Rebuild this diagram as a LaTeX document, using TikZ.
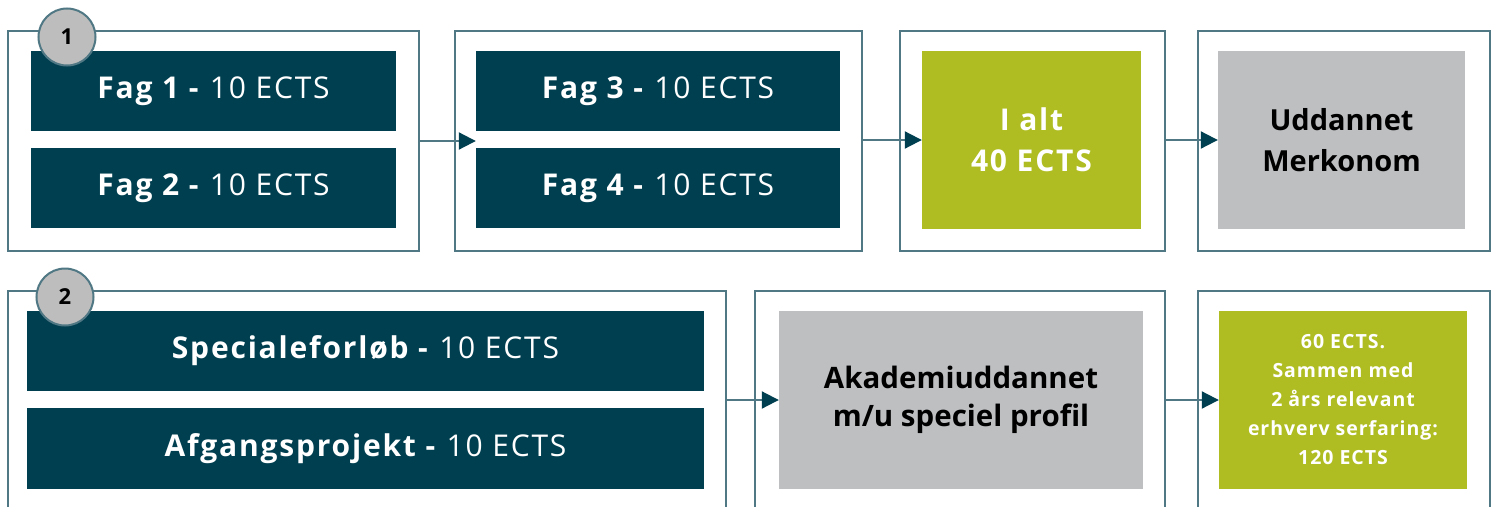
\documentclass[tikz,border=0pt]{standalone}
\usepackage{fontspec}
\setmainfont{Open Sans}
\usetikzlibrary{arrows.meta}
\definecolor{darkC}{RGB}{0,63,80}
\definecolor{frameC}{RGB}{80,120,132}
\definecolor{greenC}{RGB}{175,189,34}
\definecolor{grayC}{RGB}{190,191,193}
\definecolor{circC}{RGB}{189,189,189}
\tikzset{
  frame/.style={draw=frameC, line width=2pt, fill=white, inner sep=0pt},
  darkbox/.style={fill=darkC, text=white, inner sep=0pt, font=\fontsize{30}{34}\selectfont\addfontfeatures{LetterSpace=6}},
  greenbox/.style={fill=greenC, text=white, inner sep=0pt, align=center},
  graybox/.style={fill=grayC, text=black, inner sep=0pt, align=center},
  numc/.style={circle, fill=circC, draw=frameC, line width=2pt, minimum size=57pt, inner sep=0pt, font=\bfseries\fontsize{22}{22}\selectfont},
  conn/.style={draw=frameC, line width=2pt, -{Triangle[length=17pt,width=17pt,color=darkC]}}
}
\begin{document}
\begin{tikzpicture}[x=1pt,y=-1pt]
\useasboundingbox (0,0) rectangle (1493,506);
\clip (0,0) rectangle (1493,506);
% row 1
\node[frame, minimum width=411pt, minimum height=220pt] (b1) at (213.5,141) {};
\node[darkbox, minimum width=365pt, minimum height=80pt] (f1) at (213.5,91) {\textbf{Fag 1 -} 10 ECTS};
\node[darkbox, minimum width=365pt, minimum height=80pt] (f2) at (213.5,188) {\textbf{Fag 2 -} 10 ECTS};
\node[numc] (c1) at (67,37) {1};
\node[frame, minimum width=407pt, minimum height=220pt] (b2) at (658.5,141) {};
\node[darkbox, minimum width=364pt, minimum height=80pt] (f3) at (658,91) {\textbf{Fag 3 -} 10 ECTS};
\node[darkbox, minimum width=364pt, minimum height=80pt] (f4) at (658,188) {\textbf{Fag 4 -} 10 ECTS};
\node[frame, minimum width=265pt, minimum height=220pt] (b3) at (1032.5,141) {};
\node[greenbox, minimum width=219pt, minimum height=178pt, font=\bfseries\fontsize{30}{41}\selectfont\addfontfeatures{LetterSpace=6}] (t1) at (1031.5,140) {I alt\\40 ECTS};
\node[frame, minimum width=292pt, minimum height=220pt] (b4) at (1344,141) {};
\node[graybox, minimum width=247pt, minimum height=178pt, font=\bfseries\fontsize{29}{41}\selectfont] (u1) at (1341.5,140) {Uddannet\\Merkonom};
\draw[conn] (b1.east) -- (b1.east -| f3.west);
\draw[conn] (b2.east |- t1.west) -- (t1.west);
\draw[conn] (b3.east |- u1.west) -- (u1.west);
% row 2
\node[frame, minimum width=718pt, minimum height=239pt] (b21) at (367,410.5) {};
\node[darkbox, minimum width=677pt, minimum height=80pt] (s1) at (365.5,351) {\textbf{Specialeforløb -} 10 ECTS};
\node[darkbox, minimum width=677pt, minimum height=81pt] (s2) at (365.5,448.5) {\textbf{Afgangsprojekt -} 10 ECTS};
\node[numc] (c2) at (65,297) {2};
\node[frame, minimum width=410pt, minimum height=239pt] (b22) at (960,410.5) {};
\node[graybox, minimum width=364pt, minimum height=178pt, font=\bfseries\fontsize{29.5}{38}\selectfont] (a2) at (961,400) {Akademiuddannet\\m/u speciel profil};
\node[frame, minimum width=292pt, minimum height=239pt] (b23) at (1344,410.5) {};
\node[greenbox, minimum width=248pt, minimum height=178pt, font=\bfseries\fontsize{19.5}{29}\selectfont\addfontfeatures{LetterSpace=5}] (e2) at (1343,400) {60 ECTS.\\Sammen med\\2 års relevant\\erhverv serfaring:\\120 ECTS};
\draw[conn] (b21.east |- a2.west) -- (a2.west);
\draw[conn] (b22.east |- e2.west) -- (e2.west);
\end{tikzpicture}
\end{document}
